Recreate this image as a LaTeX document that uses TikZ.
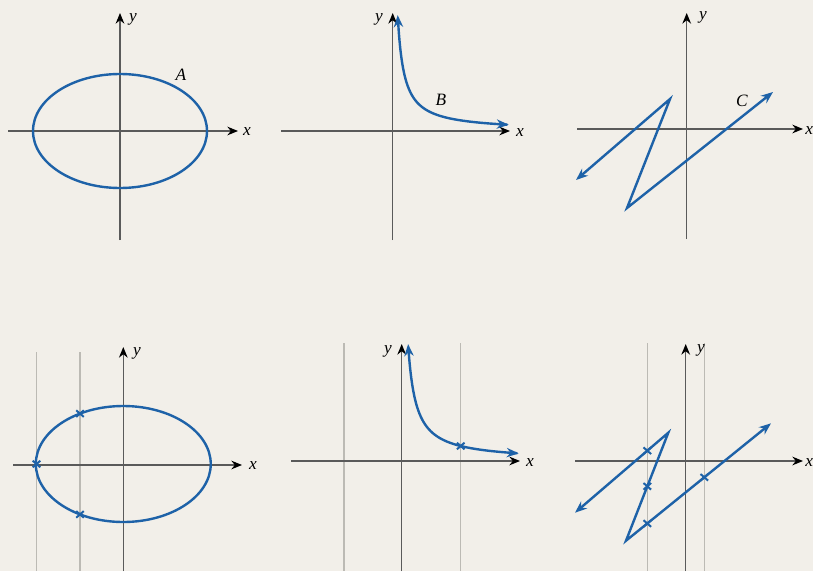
\documentclass[tikz,border=0pt]{standalone}
\usepackage{fontspec}
\setmainfont{Liberation Serif}
\usetikzlibrary{arrows.meta}
\definecolor{bg}{RGB}{242,239,233}
\definecolor{curveblue}{RGB}{30,98,168}
\definecolor{axisgray}{RGB}{90,90,90}
\definecolor{guidegray}{RGB}{188,186,180}
\begin{document}
\begin{tikzpicture}[x=0.75pt,y=-0.75pt,
  axis/.style={draw=axisgray, line width=1pt, -{Stealth[length=8pt,width=6.5pt,black]}},
  curve/.style={draw=curveblue, line width=1.8pt},
  tips/.style={{Stealth[length=9pt,width=7pt]}-{Stealth[length=9pt,width=7pt]}},
  guide/.style={draw=guidegray, line width=0.9pt},
  lbl/.style={font=\fontsize{13}{15}\selectfont\itshape, inner sep=0pt},
  cross/.pic={\draw[curveblue, line width=1.5pt] (-3.8,-3.3) -- (3.8,3.3) (-3.8,3.3) -- (3.8,-3.3);}]
\useasboundingbox (0,0) rectangle (813,571);
\fill[bg] (0,0) rectangle (813,571);

% ---------- Panel 1 ----------
\draw[axis] (8,131) -- (238,131);
\draw[axis] (120,240) -- (120,13);
\node[lbl] (x1) at (247,132) {x};
\node[lbl] (y1) at (133,19) {y};
\draw[curve] (120,131) ellipse [x radius=65.25pt, y radius=42.75pt];
\node[lbl] (A) at (181,75) {A};

% ---------- Panel 2 ----------
\draw[axis] (281,131) -- (510,131);
\draw[axis] (392.7,240) -- (392.7,13);
\node[lbl] (x2) at (520,133) {x};
\node[lbl] (y2) at (379,19) {y};
\draw[curve, tips] plot[domain=5:116, samples=80, smooth] ({392.7+\x},{131-737/(\x+1.36)});
\node[lbl] (B) at (441,100) {B};

% ---------- Panel 3 ----------
\draw[axis] (577,129) -- (803,129);
\draw[axis] (686.7,239) -- (686.7,13);
\node[lbl, anchor=west] (x3) at (805,131) {x};
\node[lbl] (y3) at (703,17) {y};
\coordinate (c1) at (576,180);
\coordinate (c2) at (670,99);
\coordinate (c3) at (627,208);
\coordinate (c4) at (773,92);
\draw[curve, tips, line join=miter] (c1) -- (c2) -- (c3) -- (c4);
\node[lbl] (C) at (742,101) {C};

% ---------- Panel 4 ----------
\draw[guide] (36.7,352) -- (36.7,571);
\draw[guide] (80,352) -- (80,571);
\draw[axis] (13,465) -- (242,465);
\draw[axis] (123.3,571) -- (123.3,347);
\node[lbl] (x4) at (253,466) {x};
\node[lbl] (y4) at (137,353) {y};
\draw[curve] (123.3,464) ellipse [x radius=65.6pt, y radius=43.5pt];
\pic at (36.5,464) {cross};
\pic at (80,413.6) {cross};
\pic at (80,514.4) {cross};

% ---------- Panel 5 ----------
\draw[guide] (344,343) -- (344,571);
\draw[guide] (460.7,343) -- (460.7,571);
\draw[axis] (291,461) -- (520,461);
\draw[axis] (401.7,571) -- (401.7,344);
\node[lbl] (x5) at (530,463) {x};
\node[lbl] (y5) at (388,351) {y};
\draw[curve, tips] plot[domain=6.4:117, samples=80, smooth] ({401.7+\x},{461-905/(\x+1.34)});
\pic at (460.7,446) {cross};

% ---------- Panel 6 ----------
\draw[guide] (647.3,343) -- (647.3,571);
\draw[guide] (704.3,343) -- (704.3,571);
\draw[axis] (575,461) -- (803,461);
\draw[axis] (685.7,571) -- (685.7,344);
\node[lbl, anchor=west] (x6) at (805,463) {x};
\node[lbl] (y6) at (701,350) {y};
\coordinate (d1) at (575,512.7);
\coordinate (d2) at (668.3,432.7);
\coordinate (d3) at (626,540.7);
\coordinate (d4) at (771,423.3);
\draw[curve, tips, line join=miter] (d1) -- (d2) -- (d3) -- (d4);
\pic at (647.3,450.7) {cross};
\pic at (647.3,486.3) {cross};
\pic at (647.3,523.5) {cross};
\pic at (704.3,477.3) {cross};
\end{tikzpicture}
\end{document}
